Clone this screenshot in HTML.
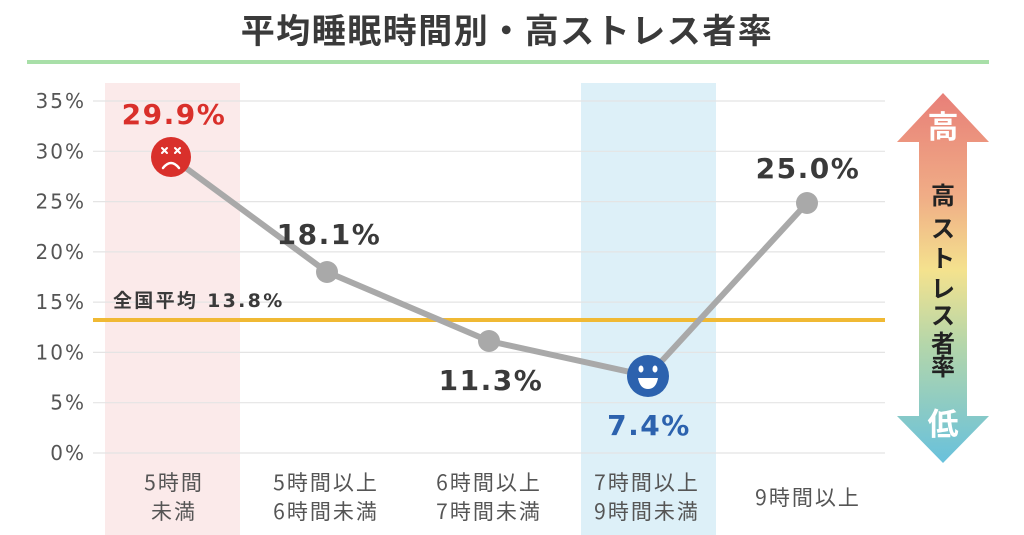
<!DOCTYPE html>
<html><head><meta charset="utf-8"><style>
html,body{margin:0;padding:0;background:#fff;}
svg{display:block;}
text{font-family:"Liberation Sans","Noto Sans CJK JP",sans-serif;}
text.cj,.cj text{font-family:"Noto Sans CJK JP","Liberation Sans",sans-serif;}
text.dj,.dj text{font-family:"DejaVu Sans","Noto Sans CJK JP",sans-serif;}
</style></head><body>
<svg width="1024" height="535" viewBox="0 0 1024 535" xmlns="http://www.w3.org/2000/svg">
<defs>
<linearGradient id="ag" x1="0" y1="93" x2="0" y2="463" gradientUnits="userSpaceOnUse">
<stop offset="0" stop-color="#e87f78"/>
<stop offset="0.28" stop-color="#f0ad86"/>
<stop offset="0.48" stop-color="#f4e28e"/>
<stop offset="0.68" stop-color="#b4d6aa"/>
<stop offset="1" stop-color="#68c1dc"/>
</linearGradient>
</defs>
<rect width="1024" height="535" fill="#fff"/>
<!-- title -->
<text x="507" y="43" text-anchor="middle" class="cj" font-size="34" font-weight="bold" fill="#3a3a3a" letter-spacing="1.5">平均睡眠時間別・高ストレス者率</text>
<rect x="27" y="60" width="962" height="4" fill="#a8dfa8"/>
<!-- bands -->
<rect x="105" y="83" width="135" height="452" fill="#fbeaea"/>
<rect x="581" y="83" width="135" height="452" fill="#ddf0f8"/>
<!-- grid -->
<g stroke="#e4e4e4" stroke-width="1.2">
<line x1="93" x2="885" y1="101" y2="101"/>
<line x1="93" x2="885" y1="151.3" y2="151.3"/>
<line x1="93" x2="885" y1="201.6" y2="201.6"/>
<line x1="93" x2="885" y1="251.9" y2="251.9"/>
<line x1="93" x2="885" y1="302.1" y2="302.1"/>
<line x1="93" x2="885" y1="352.4" y2="352.4"/>
<line x1="93" x2="885" y1="402.7" y2="402.7"/>
<line x1="93" x2="885" y1="453" y2="453"/>
</g>
<!-- y labels -->
<g class="dj" font-size="20" fill="#555" text-anchor="end" letter-spacing="2">
<text x="86" y="108">35%</text>
<text x="86" y="158.3">30%</text>
<text x="86" y="208.6">25%</text>
<text x="86" y="258.9">20%</text>
<text x="86" y="309.1">15%</text>
<text x="86" y="359.4">10%</text>
<text x="86" y="409.7">5%</text>
<text x="86" y="460">0%</text>
</g>
<!-- average line -->
<rect x="93" y="318" width="792" height="4" fill="#f0b934"/>
<text x="113" y="307" class="dj" font-size="19" font-weight="bold" fill="#3a3a3a" letter-spacing="2.3">全国平均 13.8%</text>
<!-- series -->
<polyline points="171,157 327,272 489,341 648,376 807,203" fill="none" stroke="#a9a9a9" stroke-width="6" stroke-linejoin="round"/>
<circle cx="327" cy="272" r="11" fill="#a9a9a9"/>
<circle cx="489" cy="341" r="11" fill="#a9a9a9"/>
<circle cx="807" cy="203" r="11" fill="#a9a9a9"/>
<!-- red face -->
<circle cx="171" cy="157" r="20" fill="#d9302b"/>
<g stroke="#fff" stroke-width="2" stroke-linecap="round">
<line x1="162" y1="148" x2="167" y2="153"/><line x1="167" y1="148" x2="162" y2="153"/>
<line x1="175" y1="148" x2="180" y2="153"/><line x1="180" y1="148" x2="175" y2="153"/>
</g>
<path d="M163,168 Q171,158 179,168" fill="none" stroke="#fff" stroke-width="2.5" stroke-linecap="round"/>
<!-- blue face -->
<circle cx="648" cy="376" r="21" fill="#2c62ae"/>
<ellipse cx="641" cy="369" rx="2.5" ry="3.5" fill="#fff"/>
<ellipse cx="655" cy="369" rx="2.5" ry="3.5" fill="#fff"/>
<path d="M638,378 L658,378 Q656,389 648,389 Q640,389 638,378 Z" fill="#fff"/>
<!-- value labels -->
<g class="dj" font-size="28" font-weight="bold" text-anchor="middle" letter-spacing="1.5">
<text x="174" y="124" fill="#d9302b">29.9%</text>
<text x="329" y="244" fill="#3a3a3a">18.1%</text>
<text x="491" y="390" fill="#3a3a3a">11.3%</text>
<text x="649" y="435" fill="#2c62ae">7.4%</text>
<text x="808" y="178" fill="#3a3a3a">25.0%</text>
</g>
<!-- category labels -->
<g class="cj" font-size="21" fill="#555" text-anchor="middle" letter-spacing="2">
<text x="174" y="490">5時間</text>
<text x="174" y="519">未満</text>
<text x="326" y="490">5時間以上</text>
<text x="326" y="519">6時間未満</text>
<text x="489" y="490">6時間以上</text>
<text x="489" y="519">7時間未満</text>
<text x="647" y="490">7時間以上</text>
<text x="647" y="519">9時間未満</text>
<text x="808" y="505">9時間以上</text>
</g>
<!-- arrow -->
<polygon points="943,93 989,142 967,142 967,416 989,416 943,463 897,416 919,416 919,142 897,142" fill="url(#ag)"/>
<text x="943" y="138" class="cj" font-size="31" font-weight="bold" fill="#fff" text-anchor="middle">高</text>
<text x="943" y="435" class="cj" font-size="31" font-weight="bold" fill="#fff" text-anchor="middle">低</text>
<g class="cj" font-size="24" font-weight="bold" fill="#222" text-anchor="middle">
<text x="943" y="204">高</text>
<text x="943" y="237">ス</text>
<text x="943" y="267">ト</text>
<text x="943" y="297">レ</text>
<text x="943" y="324">ス</text>
<text x="943" y="352">者</text>
<text x="943" y="375">率</text>
</g>
</svg>
</body></html>
